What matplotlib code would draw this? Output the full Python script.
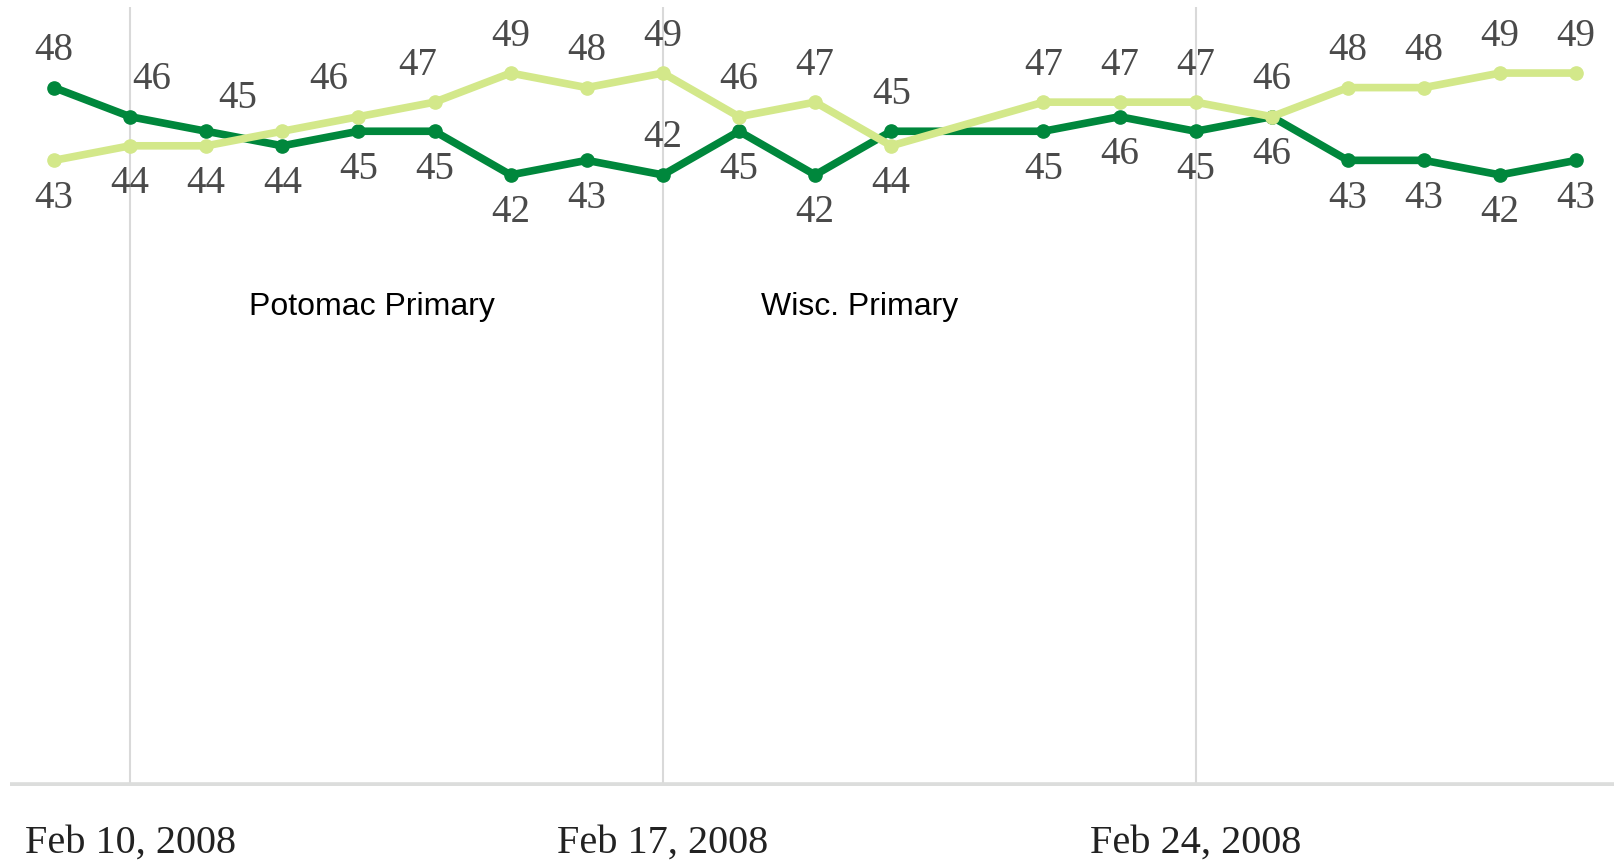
import pandas as pd
import matplotlib
matplotlib.use('Agg')
import matplotlib.pyplot as plt
import matplotlib.transforms as mtransforms

# daily tracking, Feb 21 has no reading
dates = ['2008-02-09', '2008-02-10', '2008-02-11', '2008-02-12', '2008-02-13',
         '2008-02-14', '2008-02-15', '2008-02-16', '2008-02-17', '2008-02-18',
         '2008-02-19', '2008-02-20', '2008-02-22', '2008-02-23', '2008-02-24',
         '2008-02-25', '2008-02-26', '2008-02-27', '2008-02-28', '2008-02-29']
clinton = [48, 46, 45, 44, 45, 45, 42, 43, 42, 45, 42, 45, 45, 46, 45, 46, 43, 43, 42, 43]
obama = [43, 44, 44, 45, 46, 47, 49, 48, 49, 46, 47, 44, 47, 47, 47, 46, 48, 48, 49, 49]

tick_dates = ['2008-02-10', '2008-02-17', '2008-02-24']
tick_labels = ['Feb 10, 2008', 'Feb 17, 2008', 'Feb 24, 2008']

events = ['Potomac Primary', 'Wisc. Primary']
event_pos = [0.149, 0.468]

# label offsets in pixels (dx, dy), None = no label drawn
A, B = -37, 38
clinton_lbl = [(0, A), (22, A), (31, -33), (0, B), (0, B), (0, B), (0, B), (0, B), (0, A), (0, B),
               (0, B), (0, A), (0, B), (0, B), (0, B), (0, B), (0, B), (0, B), (0, B), (0, B)]
obama_lbl = [(0, B), (0, B), (0, B), None, (-30, A), (-17, A), (0, A), (0, A), (0, A), (0, A),
             (0, A), (0, B), (0, A), (0, A), (0, A), (0, A), (0, A), (0, A), (0, A), (0, A)]

DARK = '#00873c'
LIGHT = '#d3e88a'
GRID = '#d9d9d9'


def plot_tracking():
	x = pd.to_datetime(dates)
	fig = plt.figure(figsize=(16.15, 8.64), dpi=100)
	ax = fig.add_axes([10 / 1615, 78 / 864, 1605 / 1615, 779 / 864])
	ax.set_ylim(0, 779 / 14.55)
	start = pd.Timestamp('2008-02-09')
	ax.set_xlim(start - pd.Timedelta(days=0.578), start + pd.Timedelta(days=20.51))

	for d in tick_dates:
		ax.axvline(pd.Timestamp(d), color=GRID, lw=1.5, zorder=1)
	ax.axhline(0, color='#dcdddc', lw=5.5, zorder=1)

	ax.plot(x, clinton, color=DARK, lw=5.5, marker='o', ms=9.5, zorder=3)
	ax.plot(x, obama, color=LIGHT, lw=5.5, marker='o', ms=9.5, zorder=4)

	for vals, offs in ((clinton, clinton_lbl), (obama, obama_lbl)):
		for xi, v, o in zip(x, vals, offs):
			if o is None:
				continue
			tr = ax.transData + mtransforms.ScaledTranslation(o[0] / 100, -o[1] / 100, fig.dpi_scale_trans)
			ax.text(xi, v, str(v), transform=tr, ha='center', va='center',
					fontsize=28, family='Liberation Serif', color='#4a4a4a', zorder=5)

	for name, xp in zip(events, event_pos):
		ax.text(xp, 0.615, name, transform=ax.transAxes, ha='left', va='center',
				fontsize=23, family='Liberation Sans', color='black')

	ax.set_xticks(pd.to_datetime(tick_dates))
	ax.set_xticklabels(tick_labels, fontsize=29, family='Liberation Serif', color='#222222')
	ax.tick_params(axis='x', length=0, pad=28)
	ax.set_yticks([])
	for s in ax.spines.values():
		s.set_visible(False)
	fig.savefig('out.png', dpi=100, facecolor='white')
	plt.close()


def main():
	plot_tracking()


if __name__ == '__main__':
	main()
